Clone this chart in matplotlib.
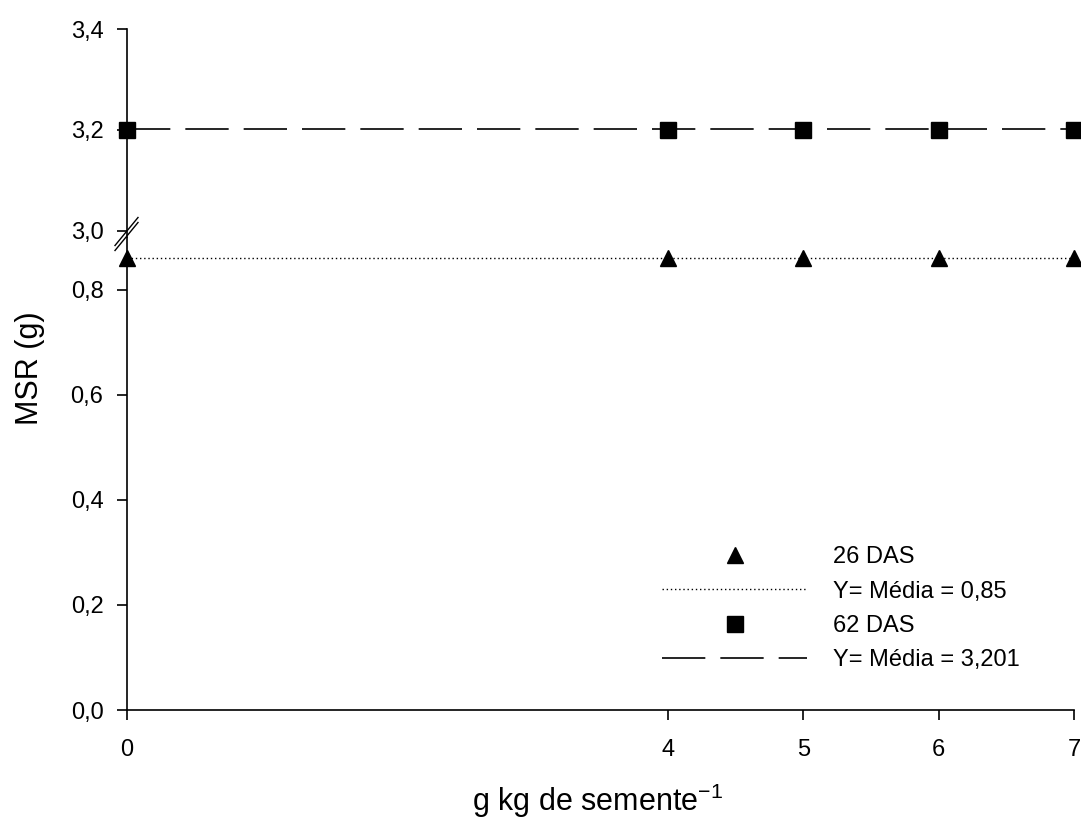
import matplotlib.pyplot as plt
from matplotlib.lines import Line2D

plt.rcParams["font.family"] = ["Liberation Sans", "DejaVu Sans"]
plt.rcParams["mathtext.fontset"] = "custom"
plt.rcParams["mathtext.rm"] = "Liberation Sans"

doses = [0, 4, 5, 6, 7]
msr_26 = [0.86, 0.86, 0.86, 0.86, 0.86]
msr_62 = [3.2, 3.2, 3.2, 3.2, 3.2]
mean_26 = 0.86
mean_62 = 3.201
labels = ["26 DAS", "Y= Média = 0,85", "62 DAS", "Y= Média = 3,201"]

fig = plt.figure(figsize=(10.81, 8.25), dpi=100)
left, width = 0.1175, 0.876
ax_lo = fig.add_axes([left, 1 - 710 / 825, width, (710 - 237) / 825])
ax_hi = fig.add_axes([left, 1 - 237 / 825, width, (237 - 29) / 825])

for ax in (ax_lo, ax_hi):
    ax.spines["top"].set_visible(False)
    ax.spines["right"].set_visible(False)
    ax.set_xlim(0, 7)
    ax.tick_params(axis="y", direction="out", length=7, width=1.2,
                   labelsize=17, pad=10)
    ax.tick_params(axis="x", direction="out", length=7, width=1.2,
                   labelsize=17, pad=14)
    ax.spines["left"].set_linewidth(1.2)

ax_hi.spines["bottom"].set_visible(False)
ax_hi.tick_params(axis="x", which="both", bottom=False, labelbottom=False)
ax_lo.spines["bottom"].set_linewidth(1.2)

dash = (26, 9)
ax_lo.plot([0, 7], [mean_26, mean_26], color="black", lw=1, ls=(0, (1, 2)))
ax_lo.plot(doses, msr_26, ls="none", marker="^", ms=11, color="black",
           clip_on=False, zorder=5)
ax_hi.plot([0, 7], [mean_62, mean_62], color="black", lw=1.2, ls=(0, dash))
ax_hi.plot(doses, msr_62, ls="none", marker="s", ms=11, color="black",
           clip_on=False, zorder=5)

ax_lo.set_ylim(0, 0.9)
ax_lo.set_yticks([0, 0.2, 0.4, 0.6, 0.8])
ax_lo.set_yticklabels(["0,0", "0,2", "0,4", "0,6", "0,8"])
ax_hi.set_ylim(2.988, 3.4)
ax_hi.set_yticks([3.0, 3.2, 3.4])
ax_hi.set_yticklabels(["3,0", "3,2", "3,4"])
ax_lo.set_xticks(doses)
ax_lo.set_xticklabels([str(d) for d in doses])

# break marks on the y axis
fig.add_artist(Line2D([127 / 1081, 127 / 1081],
                      [1 - 236 / 825, 1 - 232 / 825], color="white", lw=3,
                      zorder=0))
for dy in (-2.5, 2.5):
    fig.add_artist(Line2D([115 / 1081, 138 / 1081],
                          [1 - (248 + dy) / 825, 1 - (220 + dy) / 825],
                          color="black", lw=1))

fig.text(30 / 1081, 1 - 368 / 825, "MSR (g)", rotation=90, fontsize=22,
         ha="center", va="center")
fig.text(598 / 1081, 1 - 801 / 825, "g kg de semente$^{\\mathregular{-1}}$",
         fontsize=22, ha="center", va="center")

handles = [
    Line2D([], [], ls="none", marker="^", ms=11, color="black"),
    Line2D([], [], color="black", lw=1, ls=(0, (1, 2))),
    Line2D([], [], ls="none", marker="s", ms=11, color="black"),
    Line2D([], [], color="black", lw=1.2, ls=(0, dash)),
]
ax_lo.legend(handles, labels, frameon=False, fontsize=17, handlelength=6.15,
             handletextpad=1.1, labelspacing=0.52, loc="upper left",
             bbox_to_anchor=(514 / 947, 1 - (525 - 237) / 473))

fig.savefig("out.png", dpi=100)
